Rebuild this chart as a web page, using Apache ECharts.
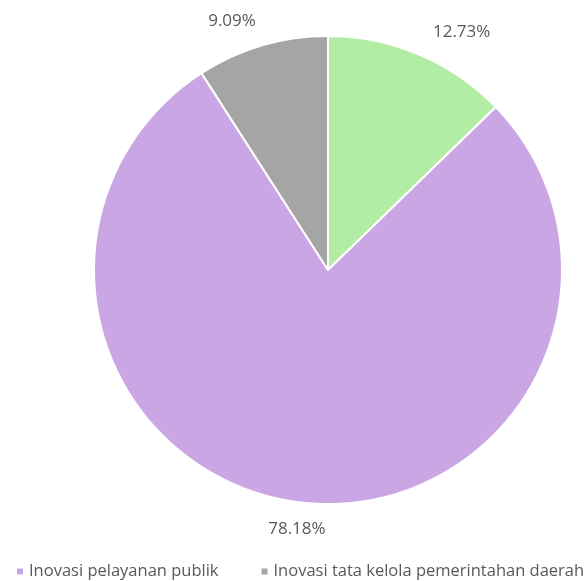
<!DOCTYPE html>
<html>
<head>
<meta charset="utf-8">
<script src="https://cdn.jsdelivr.net/npm/echarts@6/dist/echarts.min.js"></script>
<style>
  html, body { margin: 0; padding: 0; background: #ffffff; }
  #chart { width: 587px; height: 581px; }
</style>
</head>
<body>
<div id="chart"></div>
<script>
// Share of regional innovation types (percent)
const categories = [
  'Inovasi daerah lainnya',
  'Inovasi pelayanan publik',
  'Inovasi tata kelola pemerintahan daerah'
];
const shares = [12.73, 78.18, 9.09];
const colors = ['#b3eda5', '#cba6e4', '#a5a5a5'];
const legendItems = ['Inovasi pelayanan publik', 'Inovasi tata kelola pemerintahan daerah'];

// Nudges that set each percentage label just off the rim of its slice
const labelNudge = [[3, -8], [31, 12], [3, -10]];

const chart = echarts.init(document.getElementById('chart'), null, { renderer: 'canvas' });

chart.setOption({
  animation: false,
  color: colors,
  legend: {
    data: legendItems,
    left: 10,
    top: 558,
    width: 900,
    icon: 'rect',
    itemWidth: 8,
    itemHeight: 8,
    itemGap: 41,
    textStyle: { color: '#595959', fontSize: 16.5, fontFamily: 'Open Sans' }
  },
  series: [{
    type: 'pie',
    center: [328, 270],
    radius: [0, 234],
    startAngle: 90,
    clockwise: true,
    data: categories.map((name, i) => ({ name, value: shares[i] })),
    itemStyle: { borderColor: '#ffffff', borderWidth: 2 },
    label: {
      show: true,
      position: 'outside',
      formatter: p => p.value.toFixed(2) + '%',
      color: '#595959',
      fontSize: 17,
      fontFamily: 'Open Sans'
    },
    labelLine: { show: false, length: 15, length2: 0 },
    labelLayout: p => ({ dx: labelNudge[p.dataIndex][0], dy: labelNudge[p.dataIndex][1] }),
    emphasis: { disabled: true }
  }]
});
</script>
</body>
</html>
